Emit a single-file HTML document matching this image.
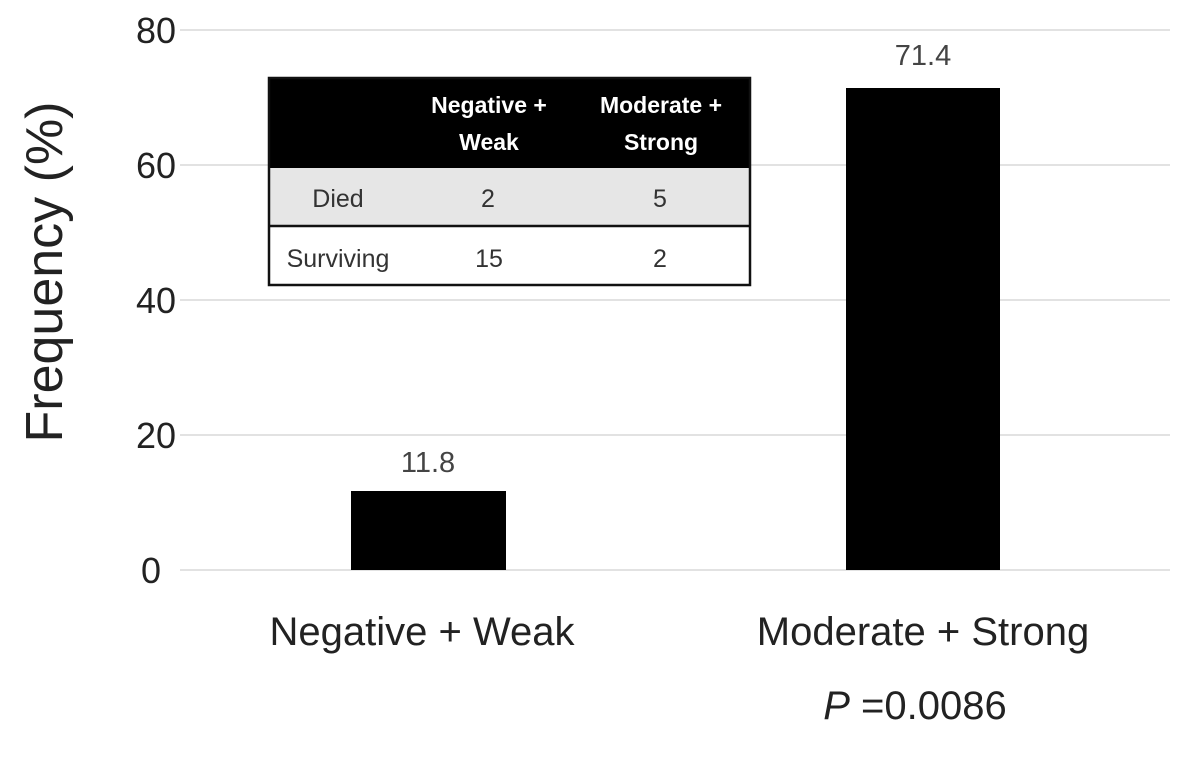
<!DOCTYPE html>
<html><head><meta charset="utf-8"><style>body{margin:0;background:#fff}svg{display:block}</style></head>
<body>
<svg width="1181" height="775" viewBox="0 0 1181 775" xmlns="http://www.w3.org/2000/svg" font-family="Liberation Sans, sans-serif">
<g stroke="#d9d9d9" stroke-width="1.5">
<line x1="180" y1="30" x2="1170" y2="30"/>
<line x1="180" y1="165" x2="1170" y2="165"/>
<line x1="180" y1="300" x2="1170" y2="300"/>
<line x1="180" y1="435" x2="1170" y2="435"/>
<line x1="180" y1="570" x2="1170" y2="570"/>
</g>
<g font-size="36" fill="#222" text-anchor="end">
<text x="176" y="43">80</text>
<text x="176" y="178">60</text>
<text x="176" y="313">40</text>
<text x="176" y="448">20</text>
<text x="161" y="583">0</text>
</g>
<text transform="translate(62,272) rotate(-90)" font-size="52" fill="#222" text-anchor="middle">Frequency (%)</text>
<rect x="351" y="491" width="155" height="79" fill="#000"/>
<rect x="846" y="88" width="154" height="482" fill="#000"/>
<g font-size="29" fill="#444" text-anchor="middle">
<text x="428" y="472">11.8</text>
<text x="923" y="65">71.4</text>
</g>
<g font-size="40" fill="#222" text-anchor="middle">
<text x="422" y="645">Negative + Weak</text>
<text x="923" y="645">Moderate + Strong</text>
<text x="915" y="719"><tspan font-style="italic">P</tspan> =0.0086</text>
</g>
<rect x="268" y="78" width="483" height="90" fill="#000"/>
<rect x="269" y="168" width="481" height="58" fill="#e6e6e6"/>
<rect x="269" y="78" width="481" height="207" fill="none" stroke="#111" stroke-width="2.5"/>
<line x1="269" y1="226" x2="750" y2="226" stroke="#111" stroke-width="2.5"/>
<g font-size="23" fill="#fff" font-weight="bold" text-anchor="middle">
<text x="489" y="113">Negative +</text>
<text x="489" y="150">Weak</text>
<text x="661" y="113">Moderate +</text>
<text x="661" y="150">Strong</text>
</g>
<g font-size="25" fill="#333" text-anchor="middle">
<text x="338" y="207">Died</text>
<text x="488" y="207">2</text>
<text x="660" y="207">5</text>
<text x="338" y="267">Surviving</text>
<text x="489" y="267">15</text>
<text x="660" y="267">2</text>
</g>
</svg>
</body></html>
